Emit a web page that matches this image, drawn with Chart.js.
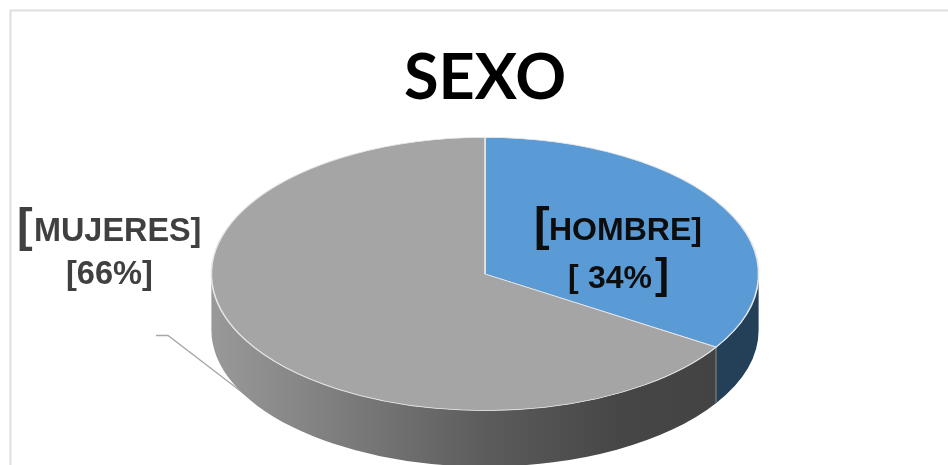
<!DOCTYPE html>
<html>
<head>
<meta charset="utf-8">
<style>html,body{margin:0;padding:0;background:#fff;overflow:hidden}canvas{display:block}</style>
<script src="https://cdn.jsdelivr.net/npm/chart.js@4"></script>
</head>
<body>
<canvas id="c" width="948" height="465"></canvas>
<script>
const titleText = 'SEXO';
const categories = ['HOMBRE', 'MUJERES'];
const values = [34, 66];
const topColors = ['#5b9bd5', '#a5a5a5'];

const STRETCH = 2.003;   // ellipse aspect of the tilted pie
const DEPTH = 56;        // wall height

function geom(chart) {
  const arcs = chart.getDatasetMeta(0).data;
  return { arcs, cx: arcs[0].x, cy: arcs[0].y, r: arcs[0].outerRadius };
}

const pie3d = {
  id: 'pie3d',
  beforeDraw(chart) {
    const c = chart.ctx;
    c.save();
    c.strokeStyle = '#dedede';
    c.lineWidth = 2;
    c.beginPath();
    c.moveTo(948, 10.5);
    c.lineTo(10.5, 10.5);
    c.lineTo(10.5, 465);
    c.stroke();
    c.restore();
  },
  beforeDatasetsDraw(chart) {
    const c = chart.ctx;
    const { arcs, cx, cy, r } = geom(chart);
    const rx = r * STRETCH;

    // leader line, passes behind the wall
    c.save();
    c.strokeStyle = '#a6a6a6';
    c.lineWidth = 1.3;
    c.beginPath();
    c.moveTo(156, 335.5);
    c.lineTo(168, 335.5);
    c.lineTo(247, 396);
    c.stroke();
    c.restore();

    // walls
    const grey = c.createLinearGradient(cx - rx, 0, cx + rx, 0);
    grey.addColorStop(0, '#999999');
    grey.addColorStop(0.17, '#858585');
    grey.addColorStop(0.5, '#5c5c5c');
    grey.addColorStop(0.75, '#464646');
    grey.addColorStop(1, '#424242');
    const walls = ['#243f58', grey];
    arcs.forEach((a, i) => {
      const s = Math.max(a.startAngle, 0), e = Math.min(a.endAngle, Math.PI);
      if (e <= s) return;
      c.save();
      c.fillStyle = walls[i];
      c.beginPath();
      c.ellipse(cx, cy, rx, r, 0, s, e);
      c.ellipse(cx, cy + DEPTH, rx, r, 0, e, s, true);
      c.closePath();
      c.fill();
      c.restore();
    });
    // seam between the wall pieces
    const seam = arcs[1].startAngle;
    const sx = cx + rx * Math.cos(seam), sy = cy + r * Math.sin(seam);
    c.save();
    c.strokeStyle = '#8c8c8c';
    c.lineWidth = 1;
    c.beginPath();
    c.moveTo(sx, sy);
    c.lineTo(sx, sy + DEPTH);
    c.stroke();
    c.restore();

    // squash the library's circle into the tilted ellipse
    c.save();
    c.translate(cx, cy);
    c.scale(STRETCH, 1);
    c.translate(-cx, -cy);
  },
  afterDatasetsDraw(chart) {
    chart.ctx.restore();
    const c = chart.ctx;
    const run = (t, x, y, size, col) => {
      c.font = 'bold ' + size + 'px "Liberation Sans"';
      c.fillStyle = col;
      c.textAlign = 'left';
      c.textBaseline = 'alphabetic';
      c.fillText(t, x, y);
    };
    c.save();
    const men = '#0d0d0d', wom = '#404040';
    const pct = values.map(v => v + '%');
    run('[', 534, 240, 47, men);
    run(categories[0] + ']', 549, 240, 32, men);
    run('[', 568, 287, 32, men);
    run(pct[0], 588, 288, 32, men);
    run(']', 655, 288, 42, men);
    run('[', 17, 241, 47, wom);
    run(categories[1] + ']', 34, 241, 32.4, wom);
    run('[' + pct[1] + ']', 66, 284, 32.6, wom);
    c.restore();
  }
};

new Chart(document.getElementById('c'), {
  type: 'pie',
  data: {
    labels: categories,
    datasets: [{
      data: values,
      backgroundColor: topColors,
      borderColor: '#e6e6e6',
      borderWidth: 0.8
    }]
  },
  options: {
    responsive: false,
    animation: false,
    layout: { padding: { left: 22, right: 0, top: 0, bottom: 54 } },
    plugins: {
      legend: { display: false },
      tooltip: { enabled: false },
      title: {
        display: true,
        text: titleText,
        color: '#000000',
        font: { family: 'Lato', weight: 'bold', size: 63, lineHeight: 1 },
        padding: { top: 47, bottom: 27 }
      }
    }
  },
  plugins: [pie3d]
});
</script>
</body>
</html>
